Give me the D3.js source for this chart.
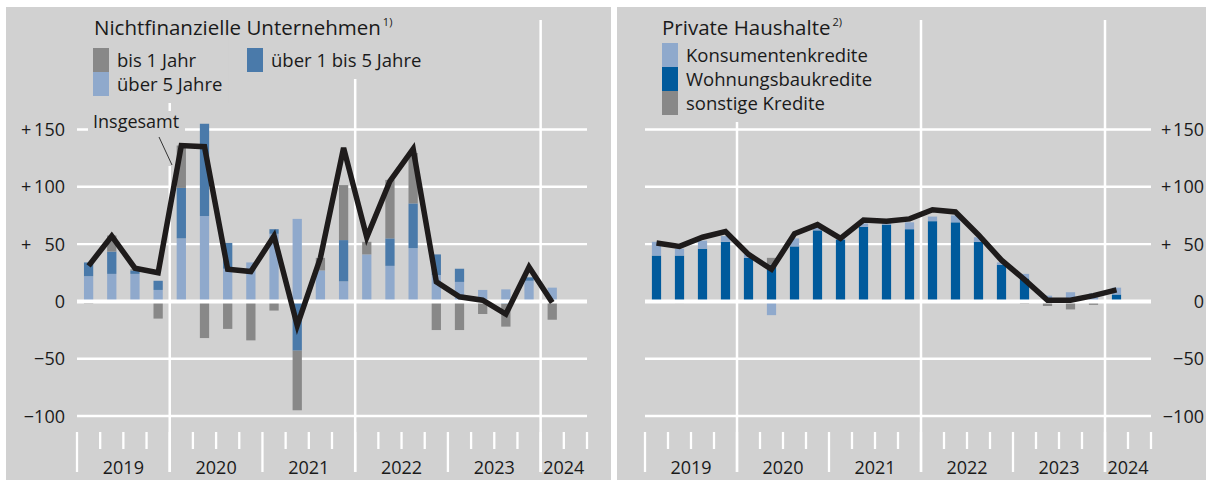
<!DOCTYPE html>
<html>
<head>
<meta charset="utf-8">
<script src="https://cdn.jsdelivr.net/npm/d3@7"></script>
<style>
  body { margin: 0; background: #fff; }
  text { font-family: "Open Sans", sans-serif; fill: #1a1a1a; }
</style>
</head>
<body>
<div id="chart"></div>
<script>
// quarters on the x axis (2019 Q1 .. 2024 Q2), data runs to 2024 Q1
const quarters = ["2019Q1", "2019Q2", "2019Q3", "2019Q4", "2020Q1", "2020Q2", "2020Q3", "2020Q4",
  "2021Q1", "2021Q2", "2021Q3", "2021Q4", "2022Q1", "2022Q2", "2022Q3", "2022Q4",
  "2023Q1", "2023Q2", "2023Q3", "2023Q4", "2024Q1", "2024Q2"];
const years = ["2019", "2020", "2021", "2022", "2023", "2024"];
const gridYears = ["2020", "2022", "2024"];
const yTicks = [150, 100, 50, 0, -50, -100];

// Nichtfinanzielle Unternehmen, Mrd €
const nfcUeber5 = [22, 24, 24, 10, 55, 74.5, 28.5, 34, 59, 72, 27, 17.5, 41, 31, 46.5, 23, 17, 10, 10.5, 18, 12];
const nfcUeber1bis5 = [12, 19.5, 3, 8, 44, 80.5, 22.5, 0, 4, -43, 0, 36, 0, 24, 39, 18, 11.5, -1, -2, 3, 0];
const nfcBis1 = [-2, 14, 1, -15, 37, -32, -24, -34, -8, -52, 11, 48, 11, 51, 44, -25, -25, -10, -20, 0, -16];
const nfcInsgesamt = [31, 57, 29, 25, 136, 135, 28, 26, 57, -21, 38, 134, 56, 105, 133, 17, 4, 1, -11, 30, -1];

// Private Haushalte, Mrd €
const hhWohnungsbau = [40, 40, 46, 52, 38, 32, 48, 62, 54, 65, 67, 63, 70, 69, 52, 32, 20, 0, 0, 0, 6];
const hhKonsumenten = [12, 6, 7, 5, 3, -12, 7, 3, 1, 3, 2, 6, 4, 6, 4, 2, 4, 5, 8, 7, 6];
const hhSonstige = [0, -1.5, 0, 0, 0, 6, 0, 0, 0, 0, 0, 0, 0, 0, 0, 0, -2, -4, -7, -3, -1];
const hhInsgesamt = [51, 48, 56, 61, 41, 28, 59, 67, 55, 71, 70, 72, 80, 78, 58, 36, 19, 1, 1, 5, 10];

const bg = "#d1d1d1";
const lineColor = "#1e1b1b";

const W = 1206, H = 481;
const svg = d3.select("#chart").append("svg")
  .attr("width", W).attr("height", H);
svg.append("rect").attr("width", W).attr("height", H).attr("fill", "#fff");

const y = d3.scaleLinear().domain([-100, 150]).range([416, 129.5]);

const panels = [
  {
    bx: 6, bw: 605, left: 77, right: 587,
    labelRight: 65, plusX: 21,
    title: "Nichtfinanzielle Unternehmen", sup: "1)", titleX: 94,
    series: [
      { key: "ueber5", label: "über 5 Jahre", values: nfcUeber5, color: "#8fa9cc", lx: 93, ly: 72 },
      { key: "ueber1bis5", label: "über 1 bis 5 Jahre", values: nfcUeber1bis5, color: "#4a7aaa", lx: 247, ly: 48 },
      { key: "bis1", label: "bis 1 Jahr", values: nfcBis1, color: "#888888", lx: 93, ly: 48 }
    ],
    total: nfcInsgesamt
  },
  {
    bx: 617, bw: 589, left: 645, right: 1151,
    labelRight: 1204, plusX: 1161,
    title: "Private Haushalte", sup: "2)", titleX: 662,
    series: [
      { key: "wohnung", label: "Wohnungsbaukredite", values: hhWohnungsbau, color: "#005a9c", lx: 662, ly: 67 },
      { key: "konsum", label: "Konsumentenkredite", values: hhKonsumenten, color: "#8fa9cc", lx: 662, ly: 43 },
      { key: "sonst", label: "sonstige Kredite", values: hhSonstige, color: "#888888", lx: 662, ly: 91 }
    ],
    total: hhInsgesamt
  }
];

panels.forEach((p, pi) => {
  const g = svg.append("g");
  g.append("rect")
    .attr("x", p.bx).attr("y", 7).attr("width", p.bw).attr("height", 473)
    .attr("fill", bg);

  const x = d3.scaleBand().domain(quarters).range([p.left, p.right]);
  const qw = x.step();
  const cx = q => x(q) + qw / 2;

  // horizontal grid
  g.selectAll(".grid")
    .data(yTicks.filter(d => d !== 0))
    .join("line")
    .attr("x1", p.left).attr("x2", p.right)
    .attr("y1", d => y(d)).attr("y2", d => y(d))
    .attr("stroke", "#fff").attr("stroke-width", 2.4);

  // vertical year lines
  g.selectAll(".vline")
    .data(gridYears)
    .join("line")
    .attr("x1", d => x(d + "Q1")).attr("x2", d => x(d + "Q1"))
    .attr("y1", 20).attr("y2", 472)
    .attr("stroke", "#fff").attr("stroke-width", 2.5);

  // quarter ticks
  const bounds = quarters.map(q => ({ pos: x(q), long: q.endsWith("Q1") }))
    .concat([{ pos: p.right, long: false }]);
  g.selectAll(".tick")
    .data(bounds)
    .join("line")
    .attr("x1", d => d.pos).attr("x2", d => d.pos)
    .attr("y1", 432).attr("y2", d => d.long ? 472 : 449)
    .attr("stroke", "#fff").attr("stroke-width", 2.3);

  // year labels
  g.selectAll(".year")
    .data(years)
    .join("text")
    .attr("x", yr => {
      const qs = quarters.filter(q => q.startsWith(yr));
      return (x(qs[0]) + x(qs[qs.length - 1]) + qw) / 2;
    })
    .attr("y", 474)
    .attr("text-anchor", "middle")
    .attr("font-size", 18)
    .text(d => d);

  // y labels
  g.selectAll(".ylab")
    .data(yTicks)
    .join("text")
    .attr("x", p.labelRight)
    .attr("y", d => y(d) + 6.5)
    .attr("text-anchor", "end")
    .attr("font-size", 18)
    .attr("fill", "#2a2a2a")
    .text(d => d < 0 ? "\u2212" + Math.abs(d) : String(d));
  g.selectAll(".plus")
    .data(yTicks.filter(d => d > 0))
    .join("text")
    .attr("x", p.plusX)
    .attr("y", d => y(d) + 6.5)
    .attr("font-size", 18)
    .attr("fill", "#2a2a2a")
    .text("+");

  // legend: background patches first (they hide the grid), then items
  const masks = g.append("g");
  const items = g.append("g");

  const t = items.append("text").attr("x", p.titleX).attr("y", 35).attr("font-size", 20.5);
  t.append("tspan").text(p.title);
  t.append("tspan").attr("dx", 2).attr("dy", -9).attr("font-size", 11).text(p.sup);

  p.series.forEach(s => {
    items.append("rect")
      .attr("x", s.lx).attr("y", s.ly).attr("width", 16).attr("height", 24)
      .attr("fill", s.color);
    const tx = items.append("text")
      .attr("x", s.lx + 24).attr("y", s.ly + 19)
      .attr("font-size", 18.5)
      .text(s.label);
    const bb = tx.node().getBBox();
    masks.append("rect").attr("fill", bg)
      .attr("x", s.lx - 5).attr("y", 20)
      .attr("width", bb.x + bb.width - s.lx + 11)
      .attr("height", s.ly + 24 + 7 - 20);
  });

  if (pi === 0) {
    masks.append("rect").attr("x", 88).attr("y", 111).attr("width", 97).attr("height", 23).attr("fill", bg);
    masks.append("rect").attr("x", 152).attr("y", 134).attr("width", 23).attr("height", 32).attr("fill", bg);
    items.append("text").attr("x", 93).attr("y", 128).attr("font-size", 18).text("Insgesamt");
    items.append("line")
      .attr("x1", 159).attr("y1", 137).attr("x2", 172).attr("y2", 165)
      .attr("stroke", "#333").attr("stroke-width", 1);
  }

  // stacked bars
  const n = p.total.length;
  const table = quarters.slice(0, n).map((q, i) => {
    const row = { q };
    p.series.forEach(s => { row[s.key] = s.values[i]; });
    return row;
  });
  const stacked = d3.stack()
    .keys(p.series.map(s => s.key))
    .offset(d3.stackOffsetDiverging)(table);
  const bw = qw * 0.4;
  g.selectAll(".layer")
    .data(stacked)
    .join("g")
    .attr("fill", (d, i) => p.series[i].color)
    .selectAll("rect")
    .data(d => d)
    .join("rect")
    .attr("x", d => cx(d.data.q) - bw / 2)
    .attr("width", bw)
    .attr("y", d => y(Math.max(d[0], d[1])))
    .attr("height", d => Math.abs(y(d[0]) - y(d[1])));

  // zero line on top of bars
  g.append("line")
    .attr("x1", p.left).attr("x2", p.right)
    .attr("y1", y(0)).attr("y2", y(0))
    .attr("stroke", "#fff").attr("stroke-width", 4);

  // total line
  const line = d3.line()
    .x((d, i) => cx(quarters[i]))
    .y(d => y(d));
  g.append("path")
    .datum(p.total)
    .attr("d", line)
    .attr("fill", "none")
    .attr("stroke", lineColor)
    .attr("stroke-width", 5.5)
    .attr("stroke-linejoin", "miter");
});
</script>
</body>
</html>
